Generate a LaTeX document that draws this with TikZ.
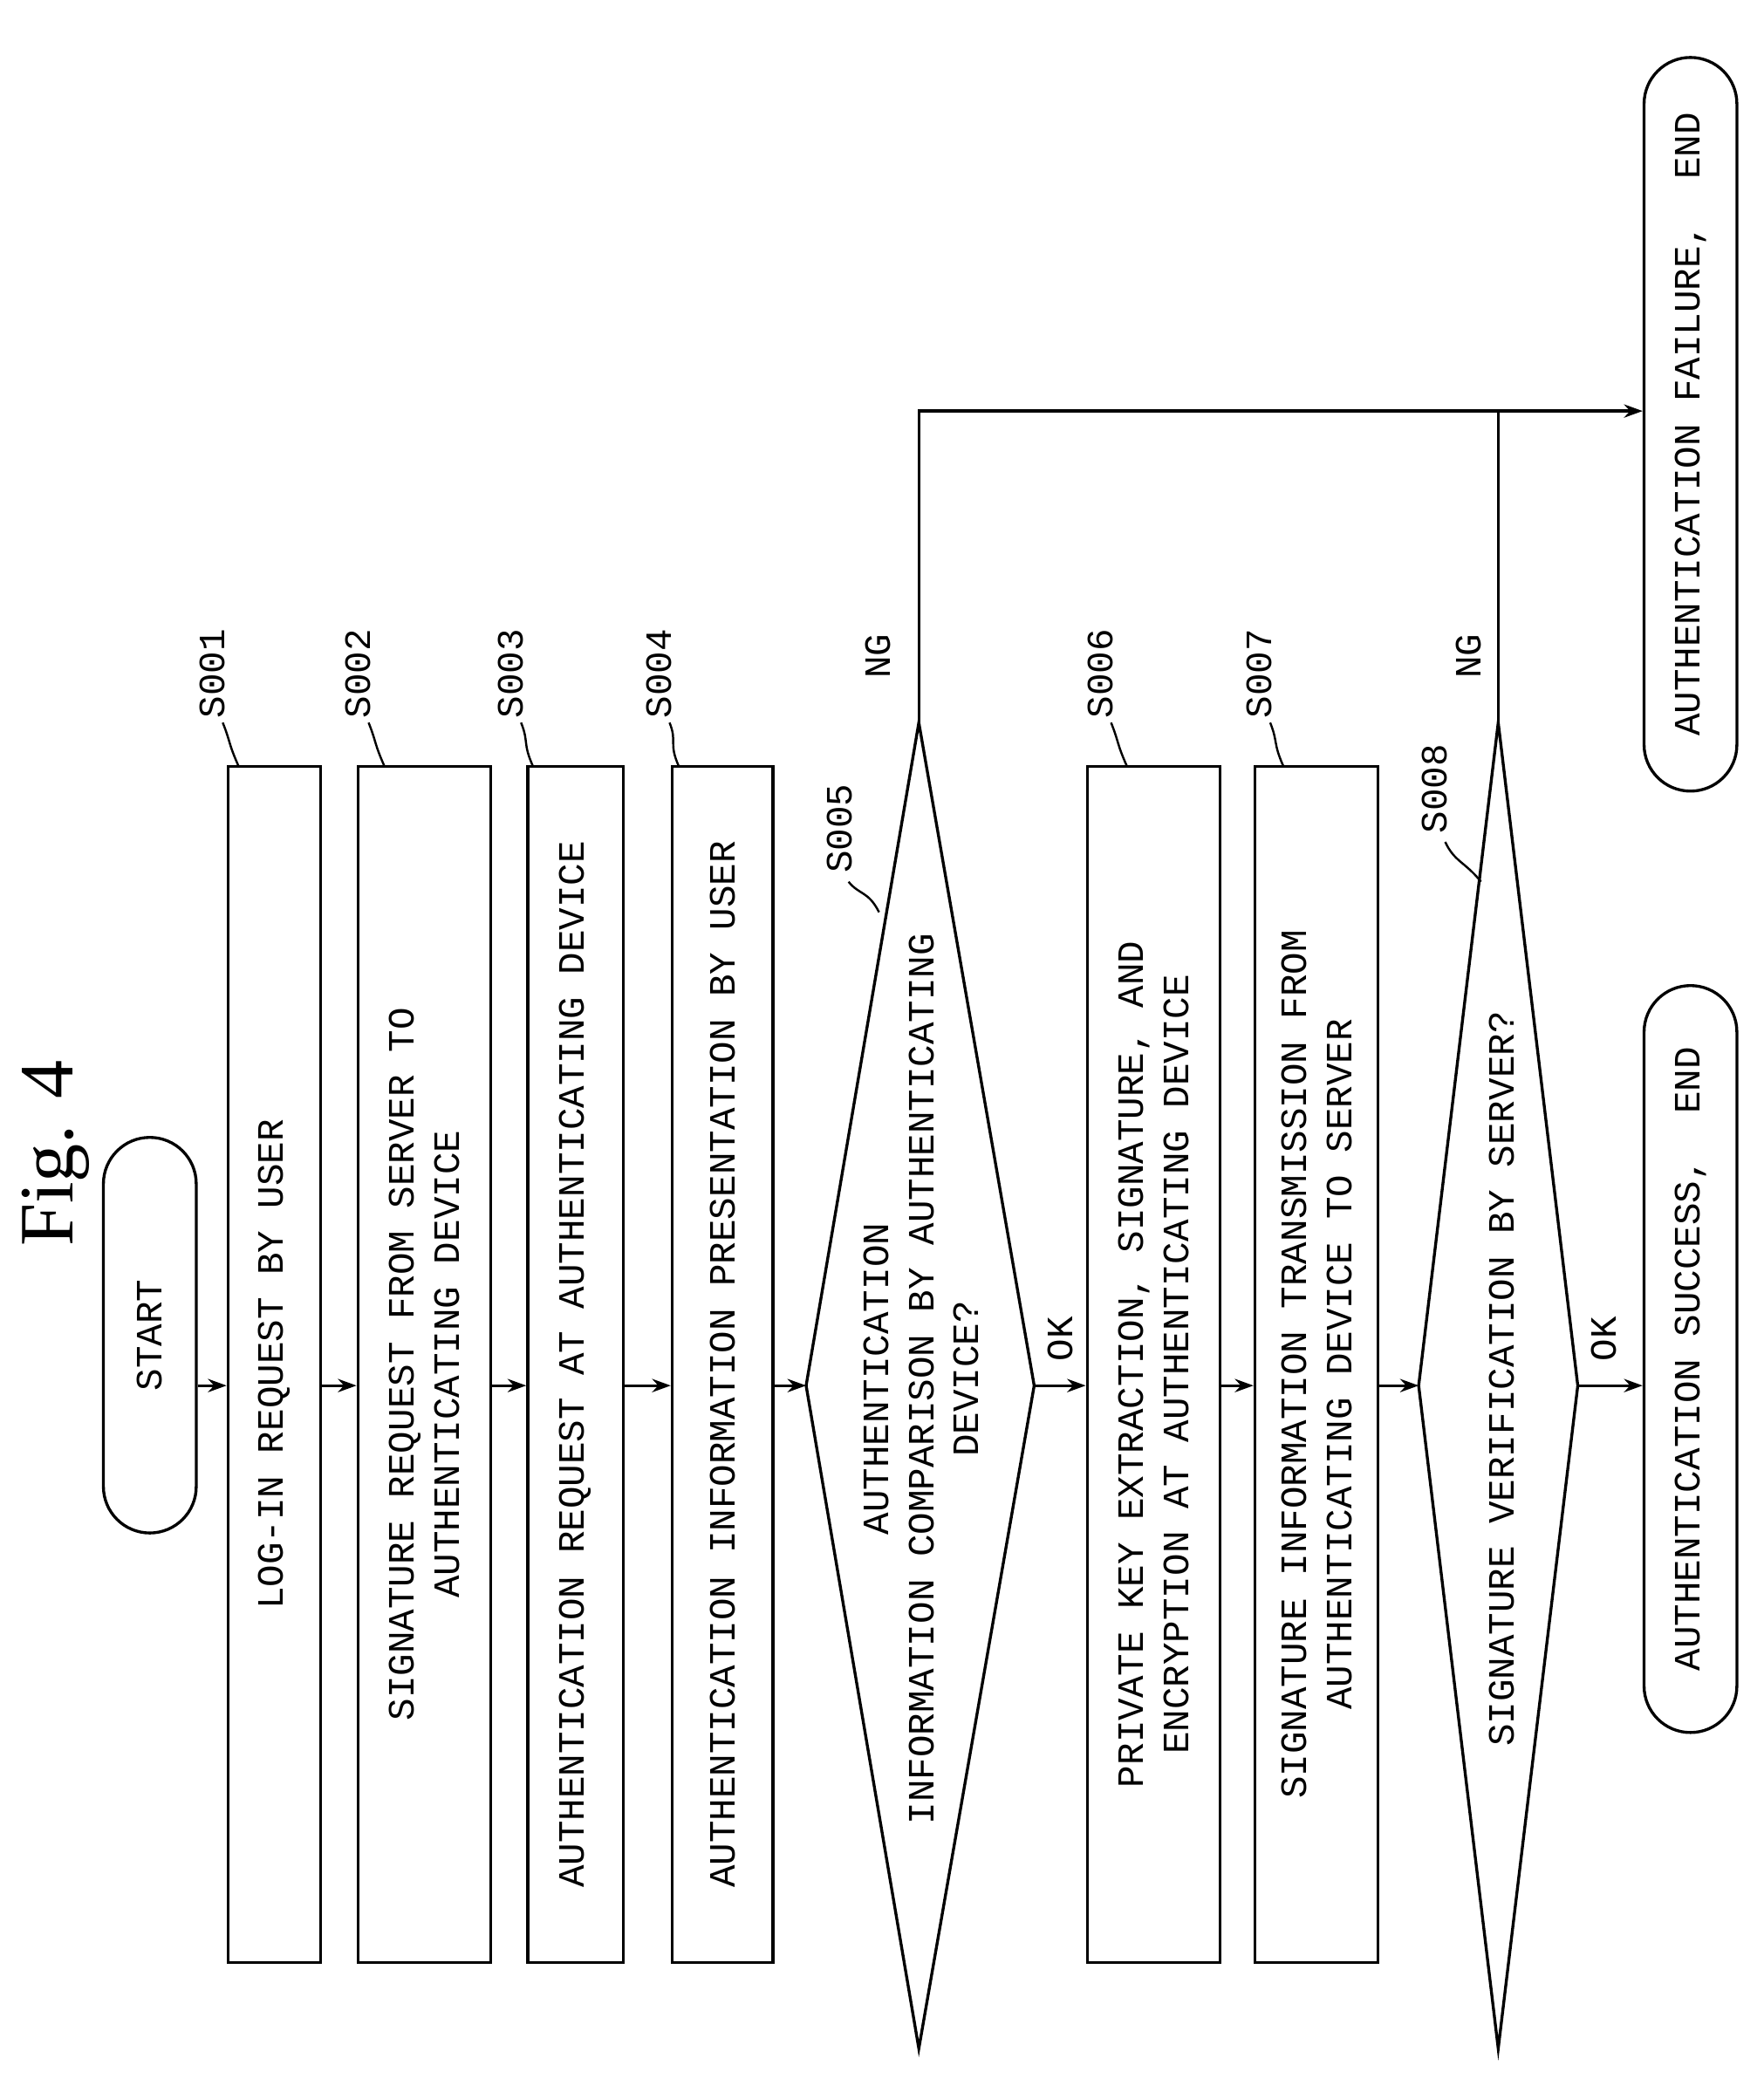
\documentclass[tikz,border=0pt]{standalone}
\usepackage{fontspec}
\setmainfont{Liberation Mono}
\newfontfamily\figfont{Liberation Serif}
\usetikzlibrary{arrows.meta,shapes.misc}
\begin{document}
\begin{tikzpicture}[x=1pt,y=-1pt,line width=2.2pt,
  box/.style={draw,rotate=90,minimum width=902pt,align=center,font=\fontsize{28}{34}\selectfont,inner sep=0pt},
  term/.style={draw,rounded rectangle,rotate=90,font=\fontsize{28}{34}\selectfont,minimum height=70pt},
  txt/.style={rotate=90,font=\fontsize{28}{34}\selectfont,align=center,inner sep=0pt},
  arr/.style={-{Stealth[length=14pt,width=10pt]}}]
\useasboundingbox (0,0) rectangle (1330,1568);
\node[rotate=90,font=\figfont\fontsize{58}{60}\selectfont] (fig) at (42,870) {Fig. 4};
\node[term,minimum width=305pt] (start) at (113,1007) {START};
\node[box,minimum height=70pt] (s1) at (207,1029) {LOG-IN REQUEST BY USER};
\node[box,minimum height=100pt] (s2) at (320,1029) {SIGNATURE REQUEST FROM SERVER TO\\AUTHENTICATING DEVICE};
\node[box,minimum height=72pt] (s3) at (434,1029) {AUTHENTICATION REQUEST AT AUTHENTICATING DEVICE};
\node[box,minimum height=76pt] (s4) at (545,1029) {AUTHENTICATION INFORMATION PRESENTATION BY USER};
\coordinate (d1l) at (608,1045); \coordinate (d1r) at (780,1045);
\coordinate (d1t) at (693,545); \coordinate (d1b) at (693,1545);
\draw (d1l)--(d1t)--(d1r)--(d1b)--cycle;
\node[txt] (d1) at (695,1040) {AUTHENTICATION\\INFORMATION COMPARISON BY AUTHENTICATING\\DEVICE?};
\node[box,minimum height=100pt] (s6) at (870,1029) {PRIVATE KEY EXTRACTION, SIGNATURE, AND\\ENCRYPTION AT AUTHENTICATING DEVICE};
\node[box,minimum height=93pt] (s7) at (993,1029) {SIGNATURE INFORMATION TRANSMISSION FROM\\AUTHENTICATING DEVICE TO SERVER};
\coordinate (d2l) at (1070,1045); \coordinate (d2r) at (1190,1045);
\coordinate (d2t) at (1130,545); \coordinate (d2b) at (1130,1545);
\draw (d2l)--(d2t)--(d2r)--(d2b)--cycle;
\node[txt] (d2) at (1133,1040) {SIGNATURE VERIFICATION BY SERVER?};
\node[term,minimum width=570pt] (ok) at (1275,1025) {AUTHENTICATION SUCCESS,\ \ END};
\node[term,minimum width=560pt] (ng) at (1275,320) {AUTHENTICATION FAILURE,\ \ END};
% arrows
\draw[arr] (start.south|-d1l) -- (s1.north|-d1l);
\draw[arr] (s1.south|-d1l) -- (s2.north|-d1l);
\draw[arr] (s2.south|-d1l) -- (s3.north|-d1l);
\draw[arr] (s3.south|-d1l) -- (s4.north|-d1l);
\draw[arr] (s4.south|-d1l) -- (d1l);
\draw[arr] (d1r) -- (s6.north|-d1r);
\draw[arr] (s6.south|-d1r) -- (s7.north|-d1r);
\draw[arr] (s7.south|-d1r) -- (d2l);
\draw[arr] (d2r) -- (ok.north|-d2r);
\coordinate (c1) at (693,310); \coordinate (c2) at (1130,310);
\draw[arr] (d1t) -- (c1) -- (ng.north|-c1);
\draw (d2t) -- (c2);
% labels
\node[txt] (l1) at (800,1010) {OK};
\node[txt] (l2) at (1210,1010) {OK};
\node[txt] (l3) at (662,495) {NG};
\node[txt] (l4) at (1108,495) {NG};
\foreach \n/\x/\y/\bx in {S001/160/508/180, S002/270/508/290, S003/385/508/402, S004/497/508/512, S006/830/508/850, S007/950/508/968}{
  \node[txt] (lab\n) at (\x,\y) {\n};
  \draw[line width=1.6pt] (\bx,578) .. controls (\bx-8,560) and (\x+14,560) .. (\x+8,545);
}
\node[txt] (labS005) at (633,625) {S005};
\draw[line width=1.6pt] (663,688) .. controls (655,672) and (648,675) .. (640,665);
\node[txt] (labS008) at (1082,595) {S008};
\draw[line width=1.6pt] (1117,665) .. controls (1105,650) and (1097,650) .. (1090,635);
\end{tikzpicture}
\end{document}
